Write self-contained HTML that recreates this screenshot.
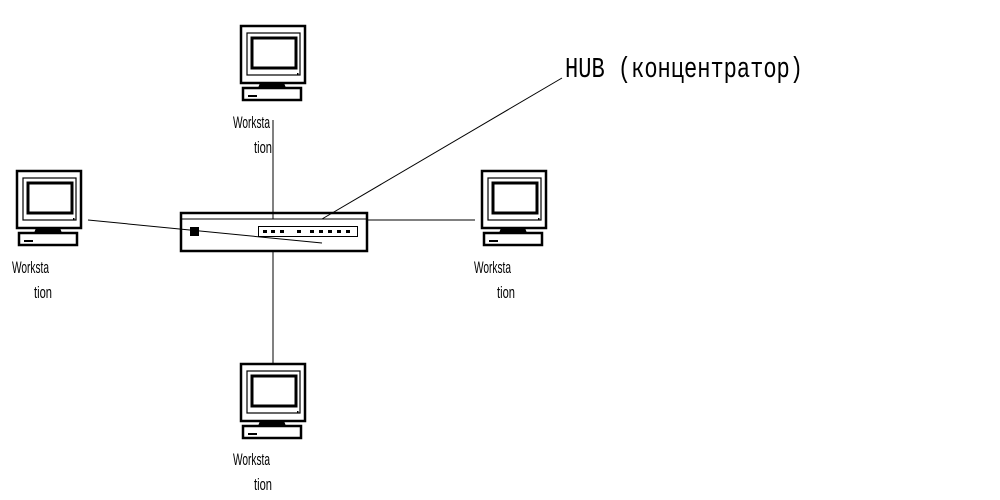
<!DOCTYPE html>
<html><head><meta charset="utf-8"><style>html,body{margin:0;padding:0;background:#fff}svg{display:block}</style></head>
<body>
<svg width="1000" height="500" viewBox="0 0 1000 500" xmlns="http://www.w3.org/2000/svg">
<defs>
<g id="pc">
  <rect x="1" y="0" width="64" height="57" fill="#fff" stroke="#000" stroke-width="2.5"/>
  <rect x="7" y="7" width="53" height="42" fill="none" stroke="#000" stroke-width="1.2"/>
  <rect x="12" y="12" width="44" height="30" fill="none" stroke="#000" stroke-width="3"/>
  <rect x="57" y="47" width="1.5" height="1.5" fill="#000"/>
  <path d="M20 57 L44 57 L46 62 L18 62 Z" fill="#000"/>
  <rect x="3" y="62" width="58" height="12" fill="#fff" stroke="#000" stroke-width="2.5"/>
  <line x1="8" y1="70" x2="17" y2="70" stroke="#000" stroke-width="2"/>
</g>
</defs>
<g font-family="Liberation Sans, sans-serif" font-size="17" fill="#000">
  <use href="#pc" x="240" y="26"/>
  <use href="#pc" x="16" y="171"/>
  <use href="#pc" x="481" y="171"/>
  <use href="#pc" x="240" y="364"/>
  <text x="233" y="128" textLength="37" lengthAdjust="spacingAndGlyphs">Worksta</text>
  <text x="254" y="153" textLength="18" lengthAdjust="spacingAndGlyphs">tion</text>
  <text x="12" y="273" textLength="37" lengthAdjust="spacingAndGlyphs">Worksta</text>
  <text x="34" y="298" textLength="18" lengthAdjust="spacingAndGlyphs">tion</text>
  <text x="474" y="273" textLength="37" lengthAdjust="spacingAndGlyphs">Worksta</text>
  <text x="497" y="298" textLength="18" lengthAdjust="spacingAndGlyphs">tion</text>
  <text x="233" y="465" textLength="37" lengthAdjust="spacingAndGlyphs">Worksta</text>
  <text x="254" y="490" textLength="18" lengthAdjust="spacingAndGlyphs">tion</text>
  <text x="565" y="77" font-family="Liberation Mono, DejaVu Sans Mono, monospace" font-size="29" textLength="238" lengthAdjust="spacingAndGlyphs">HUB (концентратор)</text>
</g>
<g stroke="#000" fill="none">
  <rect x="181" y="213" width="186" height="38" stroke-width="2.5" fill="#fff"/>
  <line x1="181" y1="219" x2="367" y2="219" stroke-width="1"/>
  <rect x="258.5" y="226.5" width="99" height="10" stroke-width="1"/>
  <line x1="273" y1="120" x2="273" y2="219" stroke-width="1"/>
  <line x1="273" y1="251" x2="273" y2="364" stroke-width="1"/>
  <line x1="88" y1="220" x2="322" y2="243" stroke-width="1"/>
  <line x1="367" y1="220" x2="475" y2="220" stroke-width="1"/>
  <line x1="562" y1="78" x2="322" y2="219" stroke-width="1"/>
</g>
<g fill="#000">
  <rect x="190" y="227" width="9" height="9"/>
  <rect x="263" y="230" width="4" height="3"/>
  <rect x="271" y="230" width="4" height="3"/>
  <rect x="280" y="230" width="4" height="3"/>
  <rect x="297" y="230" width="4" height="3"/>
  <rect x="310" y="230" width="4" height="3"/>
  <rect x="319" y="230" width="4" height="3"/>
  <rect x="328" y="230" width="4" height="3"/>
  <rect x="337" y="230" width="4" height="3"/>
  <rect x="346" y="230" width="4" height="3"/>
</g>
</svg>
</body></html>
